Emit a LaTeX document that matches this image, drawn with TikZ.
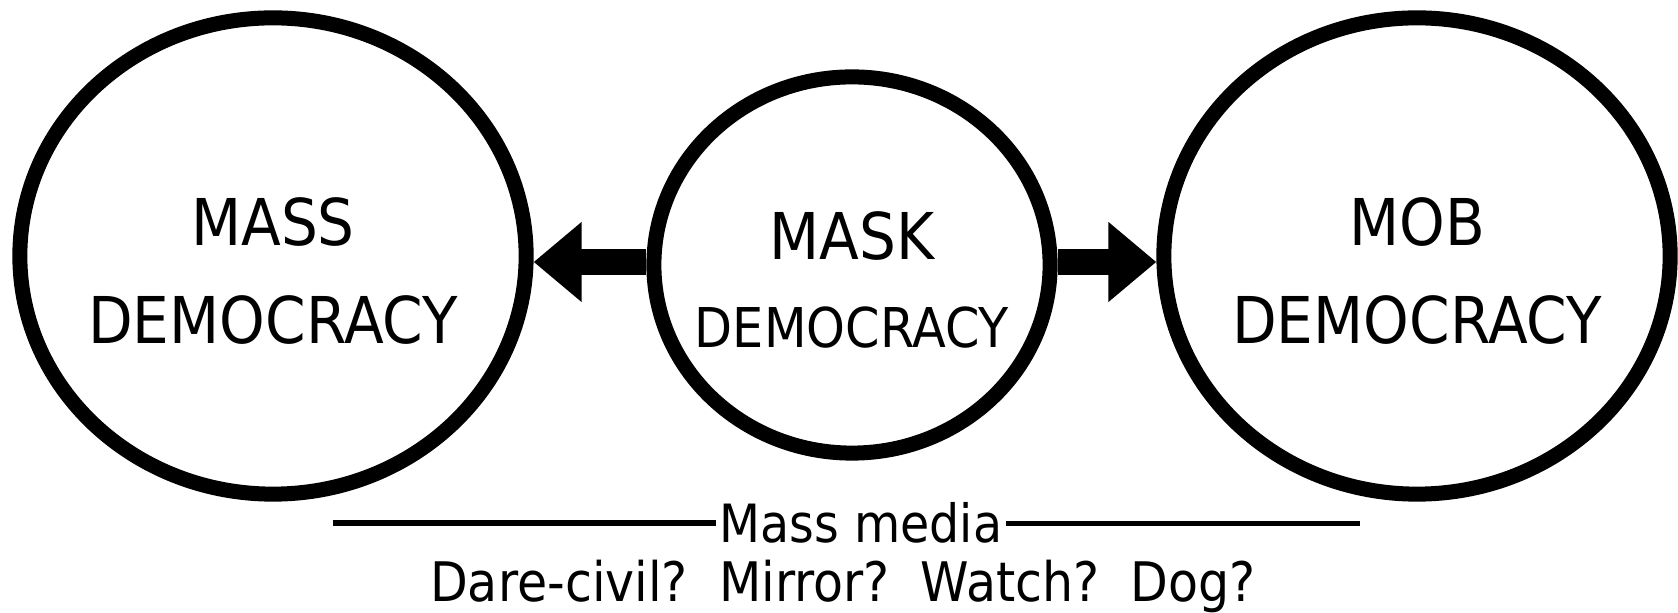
\documentclass[tikz,border=0pt]{standalone}
\usepackage{fontspec}
\setmainfont{DejaVu Sans}[FakeStretch=0.9]
\usepackage{tikz}
\usetikzlibrary{shapes.geometric, arrows.meta}

\tikzset{
  bubble/.style={ellipse, draw, line width=0.15cm, minimum width=5.06cm, minimum height=4.76cm, inner sep=0pt},
  smallbubble/.style={bubble, minimum width=3.96cm, minimum height=3.76cm},
  bigtext/.style={align=center, inner sep=0pt, font=\fontsize{18.35}{19.9}\selectfont},
  mediatext/.style={inner sep=0pt, inner xsep=1pt, font=\fontsize{15}{17}\selectfont},
  fatarrow/.style={line width=0.26cm, -{Triangle[length=0.48cm, width=0.77cm]}},
  rule/.style={line width=0.055cm}
}

\begin{document}
\begin{tikzpicture}[x=0.01cm, y=-0.01cm]
            \useasboundingbox (0,0) rectangle (1678,613);

            % the three democracies
            \node[bubble] (mass) at (273,256) {};
            \node[smallbubble] (mask) at (852,265) {};
            \node[bubble] (mob) at (1417,256) {};

            \node[bigtext] (masstext) at ([yshift=-0.15cm]mass.center) {MASS\\[7.9pt]DEMOCRACY};
            \node[bigtext] (masktext) at ([yshift=-0.15cm]mask.center) {MASK\\[5.3pt]{\fontsize{15.6}{17.3}\selectfont DEMOCRACY}};
            \node[bigtext] (mobtext) at ([yshift=-0.15cm]mob.center) {MOB\\[7.9pt]DEMOCRACY};

            \draw[fatarrow] ([yshift=0.03cm]mask.west) -- ([yshift=0.03cm]mask.west -| mass.east);
            \draw[fatarrow] ([yshift=0.03cm]mask.east) -- ([yshift=0.03cm]mask.east -| mob.west);

            % mass media
            \coordinate (ruleL) at (333,523);
            \coordinate (ruleR) at (1360,523);
            \node[mediatext, anchor=base] (media) at (861,543) {Mass media};
            \draw[rule] (ruleL) -- (ruleL -| media.west);
            \draw[rule] (media.east) -- (media.east -| ruleR);

            \node[mediatext, anchor=base, font=\fontsize{15.5}{17}\selectfont] (roles) at (843,602) {Dare-civil?\ \ Mirror?\ \ Watch?\ \ Dog?};
\end{tikzpicture}
\end{document}
